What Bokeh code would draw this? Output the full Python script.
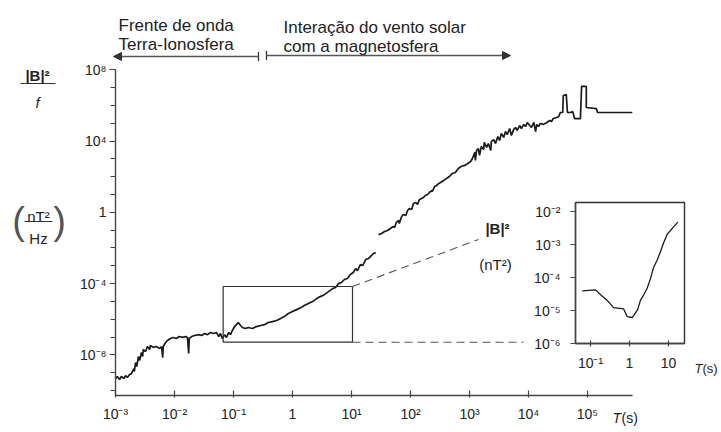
import numpy as np
from bokeh.plotting import figure
from bokeh.models import (Range1d, LogScale, LogAxis, FixedTicker, Label, Arrow,
                          NormalHead, TeeHead)
from bokeh.embed import file_html
from bokeh.resources import INLINE

# ---------------- data (log10 of period T [s], log10 of |B|^2/f or |B|^2) ----
segment1 = [(-3.00,-9.32),(-2.97,-9.21),(-2.93,-9.38),(-2.90,-9.21),(-2.86,-9.32),(-2.83,-9.16),
            (-2.80,-9.27),(-2.76,-9.10),(-2.73,-9.05),(-2.69,-8.77),(-2.68,-8.93),(-2.66,-8.43),
            (-2.64,-8.65),(-2.61,-8.09),(-2.59,-8.31),(-2.56,-7.86),(-2.54,-8.09),(-2.53,-7.70),
            (-2.49,-7.81),(-2.46,-7.53),(-2.42,-7.70),(-2.41,-7.47),(-2.36,-7.58),(-2.31,-7.53),
            (-2.25,-7.64),(-2.22,-7.53),(-2.20,-8.15),(-2.19,-7.53),(-2.15,-7.30),(-2.12,-7.19),
            (-2.07,-7.08),(-2.02,-7.02),(-1.97,-7.08),(-1.92,-6.97),(-1.86,-7.02),(-1.81,-6.97),
            (-1.78,-7.02),(-1.76,-7.92),(-1.75,-7.08),(-1.71,-6.97),(-1.66,-6.91),(-1.59,-6.86),
            (-1.54,-6.91),(-1.49,-6.80),(-1.44,-6.86),(-1.39,-6.74),(-1.34,-6.80),(-1.29,-6.74),
            (-1.25,-6.97),(-1.22,-6.80),(-1.19,-7.08),(-1.15,-6.86),(-1.12,-7.02),(-1.08,-6.74),
            (-1.05,-6.86),(-1.02,-6.63),(-0.98,-6.41),(-0.95,-6.30),(-0.92,-6.18),(-0.88,-6.35),
            (-0.85,-6.46),(-0.80,-6.52),(-0.75,-6.46),(-0.68,-6.52),(-0.61,-6.41),(-0.54,-6.35),
            (-0.47,-6.30),(-0.41,-6.18),(-0.34,-6.13),(-0.27,-6.07),(-0.20,-5.96),(-0.14,-5.85),
            (-0.07,-5.68),(0.00,-5.57),(0.07,-5.46),(0.14,-5.35),(0.20,-5.23),(0.27,-5.12),
            (0.34,-5.01),(0.41,-4.84),(0.47,-4.73),(0.54,-4.62),(0.61,-4.45),(0.68,-4.28),
            (0.73,-4.22),(0.78,-4.00),(0.83,-3.94),(0.88,-3.77),(0.93,-3.71),(0.98,-3.49),
            (1.03,-3.38),(1.07,-3.16),(1.10,-3.27),(1.15,-2.93),(1.19,-2.99),(1.24,-2.65),
            (1.29,-2.59),(1.34,-2.42),(1.37,-2.31),(1.41,-2.26)]

segment2 = [(1.46,-1.25),(1.51,-1.19),(1.56,-1.08),(1.61,-1.02),(1.66,-0.91),(1.70,-0.80),
            (1.73,-0.85),(1.76,-0.57),(1.80,-0.46),(1.81,-0.63),(1.85,-0.24),(1.88,-0.12),
            (1.92,-0.18),(1.95,0.10),(1.98,0.21),(2.02,0.16),(2.05,0.49),(2.09,0.55),
            (2.12,0.44),(2.15,0.72),(2.19,0.77),(2.22,0.83),(2.25,0.94),(2.29,1.00),
            (2.32,1.11),(2.36,1.22),(2.37,1.17),(2.41,1.45),(2.44,1.50),(2.48,1.62),
            (2.51,1.67),(2.56,1.78),(2.61,1.90),(2.66,2.01),(2.71,2.18),(2.76,2.23),
            (2.81,2.46),(2.86,2.57),(2.92,2.63),(2.97,2.74),(3.02,2.85),(3.05,3.02),
            (3.09,3.36),(3.10,2.91),(3.12,3.47),(3.15,3.58),(3.17,3.19),(3.20,3.69),
            (3.24,3.52),(3.25,3.92),(3.29,3.64),(3.32,3.86),(3.36,3.47),(3.37,3.97),
            (3.41,4.08),(3.44,3.86),(3.48,4.25),(3.51,4.03),(3.54,4.42),(3.58,4.20),
            (3.61,4.53),(3.64,4.36),(3.68,4.70),(3.71,4.31),(3.75,4.65),(3.78,4.76),
            (3.81,4.59),(3.85,4.87),(3.88,4.70),(3.92,4.93),(3.95,4.81),(3.98,5.04),
            (4.02,4.87),(4.05,4.76),(4.09,5.04),(4.12,4.53),(4.14,4.93),(4.17,4.81),
            (4.20,4.98),(4.25,4.93),(4.31,5.04),(4.36,5.15),(4.39,5.09),(4.42,5.26),
            (4.48,5.32),(4.51,5.37),(4.54,5.60),(4.58,5.60),(4.59,6.55),(4.64,6.61),
            (4.66,5.60),(4.71,5.60),(4.75,5.65),(4.78,5.26),(4.88,5.26),(4.90,7.06),
            (4.98,7.06),(4.98,5.88),(5.15,5.82),(5.17,5.60),(5.76,5.60)]

inset_curve = [(-1.21,-4.40),(-0.87,-4.37),(-0.72,-4.54),(-0.57,-4.69),(-0.41,-4.91),
               (-0.15,-4.95),(-0.06,-5.18),(0.07,-5.21),(0.21,-4.97),(0.28,-4.69),
               (0.37,-4.51),(0.45,-4.33),(0.54,-4.02),(0.62,-3.68),(0.71,-3.46),
               (0.79,-3.22),(0.88,-2.92),(0.97,-2.67),(1.05,-2.57),(1.14,-2.44),(1.24,-2.31)]

zoom_T = [0.0668, 10.4]        # period span of the zoomed window (s)
zoom_B = [5.15e-8, 6.87e-5]    # |B|^2/f span of the zoomed window

x_ticks = [1e-3, 1e-2, 1e-1, 1.0, 1e1, 1e2, 1e3, 1e4, 1e5]
x_labels = ["10⁻³", "10⁻²", "10⁻¹", "1", "10¹", "10²", "10³", "10⁴", "10⁵"]
y_ticks = [1e-8, 1e-4, 1.0, 1e4, 1e8]
y_labels = ["10⁻⁸", "10⁻⁴", "1", "10⁴", "10⁸"]
y_minor = [10.0 ** k for k in range(-10, 9)]

inset_x_ticks = [0.1, 1.0, 10.0]
inset_x_labels = ["10⁻¹", "1", "10"]
inset_y_ticks = [1e-2, 1e-3, 1e-4, 1e-5, 1e-6]
inset_y_labels = ["10⁻²", "10⁻³", "10⁻⁴", "10⁻⁵", "10⁻⁶"]

# ---------------- layout helpers (canvas pixel -> data), placement only ----
def mx(px):
    return 10 ** ((px - 115) / 59.0 - 3)

def my(py):
    return 10 ** ((211.8 - py) / 17.825)

def ix(px):
    return 10 ** ((px - 629) / 39.0)

def iy(py):
    return 10 ** (-6 + (343 - py) / 32.9)

W, H = 721, 432
FONT = "Liberation Sans"
INK = "#1a1a1a"
TXT = "#222222"
AX = "#444444"

p = figure(width=W, height=H, output_backend="svg", toolbar_location=None,
           x_axis_type="log", y_axis_type="log",
           x_axis_location=None, y_axis_location=None,
           x_range=Range1d(mx(0), mx(W)), y_range=Range1d(my(H), my(0)),
           min_border=0, min_border_left=0, min_border_right=0,
           min_border_top=0, min_border_bottom=0)
p.outline_line_color = None
p.grid.visible = False
p.background_fill_color = "white"
p.border_fill_color = "white"

p.extra_x_ranges = {"ix": Range1d(ix(0), ix(W))}
p.extra_y_ranges = {"iy": Range1d(iy(H), iy(0))}
p.extra_x_scales = {"ix": LogScale()}
p.extra_y_scales = {"iy": LogScale()}


def style_axis(ax, size="14px"):
    ax.axis_line_color = AX
    ax.axis_line_width = 1.4
    ax.major_tick_line_color = AX
    ax.major_tick_line_width = 1.2
    ax.minor_tick_line_color = AX
    ax.minor_tick_line_width = 1.1
    ax.major_label_text_font = FONT
    ax.major_label_text_font_size = size
    ax.major_label_text_color = TXT


# ---- main axes (fixed inside the full-canvas frame)
xa = LogAxis(ticker=FixedTicker(ticks=x_ticks, minor_ticks=[]),
             major_label_overrides=dict(zip(x_ticks, x_labels)),
             fixed_location=my(395), bounds=(1e-3, mx(632)),
             major_tick_in=5, major_tick_out=2, minor_tick_in=0, minor_tick_out=0,
             major_label_standoff=8)
ya = LogAxis(ticker=FixedTicker(ticks=y_ticks, minor_ticks=y_minor),
             major_label_overrides=dict(zip(y_ticks, y_labels)),
             fixed_location=1e-3, bounds=(my(395), 1e8),
             major_tick_in=0, major_tick_out=6, minor_tick_in=0, minor_tick_out=5,
             major_label_standoff=3)
style_axis(xa)
style_axis(ya)
p.add_layout(xa, "below")
p.add_layout(ya, "left")

# ---- main spectrum (two pieces, gap between them)
t1 = [10 ** a for a, _ in segment1]
b1 = [10 ** b for _, b in segment1]
t2 = [10 ** a for a, _ in segment2]
b2 = [10 ** b for _, b in segment2]
p.line(t1 + [np.nan] + t2, b1 + [np.nan] + b2, line_color=INK, line_width=1.7)

# ---- zoom window and connectors
p.quad(left=[zoom_T[0]], right=[zoom_T[1]], bottom=[zoom_B[0]], top=[zoom_B[1]],
       fill_color=None, line_color="#333", line_width=1.2)
p.segment(x0=[zoom_T[1], zoom_T[1]], y0=[zoom_B[1], zoom_B[0]],
          x1=[mx(478), mx(523)], y1=[my(239), zoom_B[0]],
          line_color="#555", line_width=1.1, line_dash="8 5")

# ---- inset
p.quad(left=[ix(575)], right=[ix(684)], bottom=[1e-6], top=[iy(202)],
       fill_color="white", line_color="#333", line_width=1.4,
       x_range_name="ix", y_range_name="iy")
p.line([10 ** a for a, _ in inset_curve], [10 ** b for _, b in inset_curve],
       line_color=INK, line_width=1.3, x_range_name="ix", y_range_name="iy")
ixa = LogAxis(x_range_name="ix", y_range_name="iy",
              ticker=FixedTicker(ticks=inset_x_ticks, minor_ticks=[]),
              major_label_overrides=dict(zip(inset_x_ticks, inset_x_labels)),
              fixed_location=1e-6, bounds=(ix(575), ix(684)),
              major_tick_in=3, major_tick_out=3, minor_tick_in=0, minor_tick_out=0,
              major_label_standoff=8)
iya = LogAxis(x_range_name="ix", y_range_name="iy",
              ticker=FixedTicker(ticks=inset_y_ticks, minor_ticks=[]),
              major_label_overrides=dict(zip(inset_y_ticks, inset_y_labels)),
              fixed_location=ix(575), bounds=(1e-6, iy(202)),
              major_tick_in=0, major_tick_out=5, minor_tick_in=0, minor_tick_out=0,
              major_label_standoff=10)
style_axis(ixa)
style_axis(iya)
p.add_layout(ixa, "below")
p.add_layout(iya, "left")

# ---- texts
def add_text(text, px, py, size="17px", align="left", baseline="alphabetic",
             style="normal", color=TXT):
    p.add_layout(Label(x=mx(px), y=my(py), text=text, text_font=FONT,
                       text_font_size=size, text_align=align, text_baseline=baseline,
                       text_font_style=style, text_color=color))

add_text("Frente de onda", 118, 25)
add_text("Terra-Ionosfera", 118, 44)
add_text("Interação do vento solar", 283, 27)
add_text("com a magnetosfera", 283, 45.5)

add_text("|B|²", 37, 75, size="15px", align="center", style="bold")
add_text("f", 37, 102, size="15px", align="center", style="italic")
add_text("nT²", 38, 216, size="15px", align="center")
add_text("Hz", 38, 238, size="15px", align="center")
add_text("(", 18, 220, size="38px", align="center", baseline="middle", color="#555")
add_text(")", 59, 220, size="38px", align="center", baseline="middle", color="#555")

add_text("T", 612, 417, size="14px", style="italic")
add_text("(s)", 621, 417, size="14px")
add_text("|B|²", 497, 228, size="15px", align="center", style="bold")
add_text("(nT²)", 495, 264, size="15px", align="center")
add_text("T", 694, 368, size="13px", style="italic")
add_text("(s)", 702, 368, size="13px")

# fraction bars of the y-axis unit label
p.segment(x0=[mx(20), mx(24)], y0=[my(83), my(221)], x1=[mx(55), mx(52)],
          y1=[my(83), my(221)], line_color="#333", line_width=1.2)

# ---- regime arrows
p.add_layout(Arrow(start=TeeHead(size=9, line_color="#333", line_width=1.3),
                   end=NormalHead(size=8, fill_color="#333", line_color="#333"),
                   x_start=mx(258), y_start=my(56), x_end=mx(113), y_end=my(56),
                   line_color="#555", line_width=1.3))
p.add_layout(Arrow(start=TeeHead(size=9, line_color="#333", line_width=1.3),
                   end=NormalHead(size=8, fill_color="#333", line_color="#333"),
                   x_start=mx(266), y_start=my(55), x_end=mx(510), y_end=my(55),
                   line_color="#555", line_width=1.3))

open("out.html", "w").write(file_html(p, INLINE))
